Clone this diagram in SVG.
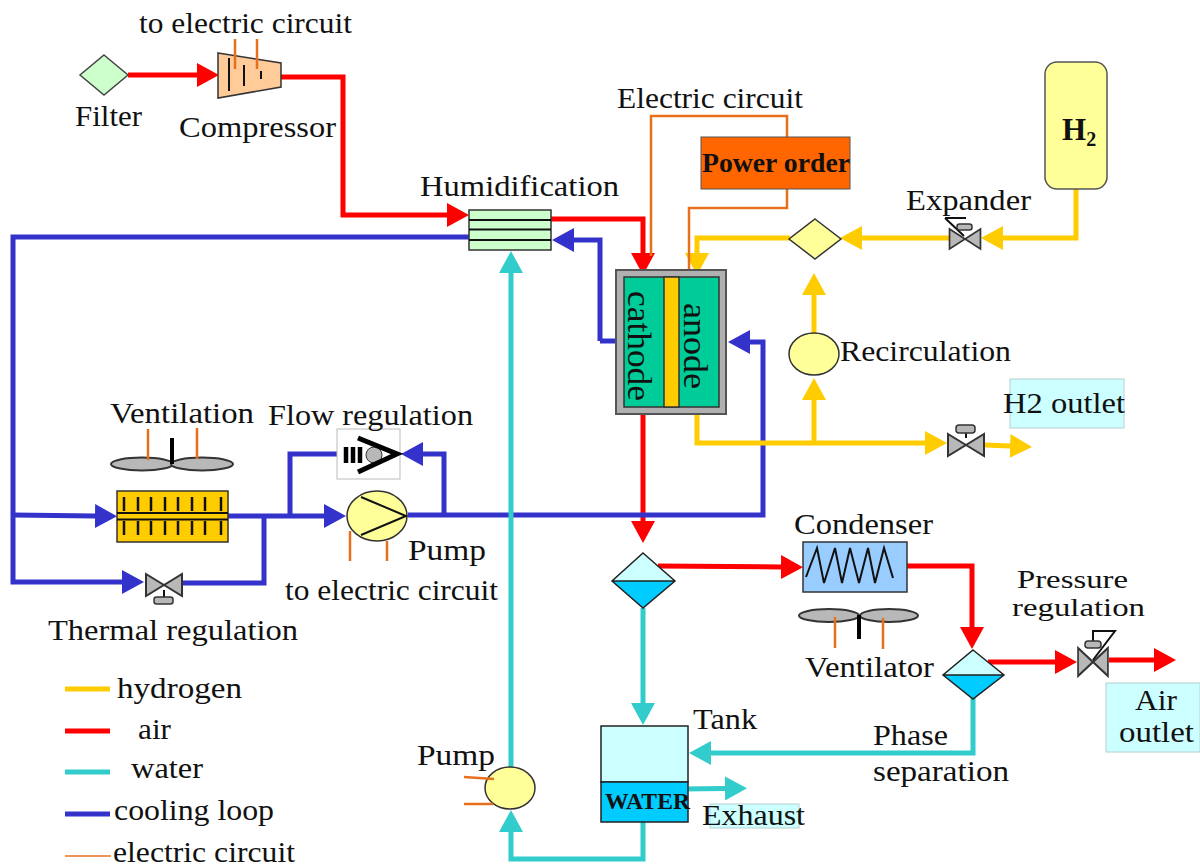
<svg xmlns="http://www.w3.org/2000/svg" width="1200" height="866" viewBox="0 0 1200 866">
<style>
text{font-family:"Liberation Serif","DejaVu Serif",serif;font-size:29px;fill:#111}
.b{font-weight:bold}
.pipe{fill:none;stroke-width:5;stroke-linejoin:miter}
.air{stroke:#f00}.h2{stroke:#fc0}.wat{stroke:#3cc}.cool{stroke:#33c}
.el{fill:none;stroke:#e8701c;stroke-width:2.5}
.bk{fill:none;stroke:#111;stroke-width:2}
.grey{fill:#b8b8b8;stroke:#333;stroke-width:2}
.out{fill:#cff;stroke:#b8d0d0;stroke-width:1}
.tick{stroke:#111;stroke-width:2.5}
</style>
<defs>
<marker id="mAir" markerUnits="userSpaceOnUse" viewBox="0 -12 22 24" refX="0" refY="0" markerWidth="22" markerHeight="24" orient="auto"><path d="M0,-12L22,0L0,12z" fill="#f00"/></marker>
<marker id="mH2" markerUnits="userSpaceOnUse" viewBox="0 -12 22 24" refX="0" refY="0" markerWidth="22" markerHeight="24" orient="auto"><path d="M0,-12L22,0L0,12z" fill="#fc0"/></marker>
<marker id="mWat" markerUnits="userSpaceOnUse" viewBox="0 -12 22 24" refX="0" refY="0" markerWidth="22" markerHeight="24" orient="auto"><path d="M0,-12L22,0L0,12z" fill="#3cc"/></marker>
<marker id="mCool" markerUnits="userSpaceOnUse" viewBox="0 -12 22 24" refX="0" refY="0" markerWidth="22" markerHeight="24" orient="auto"><path d="M0,-12L22,0L0,12z" fill="#33c"/></marker>
<g id="valve"><path class="grey" d="M-18,-11L18,11V-11L-18,11z"/></g>
</defs>
<rect width="1200" height="866" fill="#fff"/>

<g id="connectors">
<g class="pipe air">
<path marker-end="url(#mAir)" d="M128,75H197"/>
<path marker-end="url(#mAir)" d="M280,77H343V215H447"/>
<path marker-end="url(#mAir)" d="M549,219H643V253"/>
<path marker-end="url(#mAir)" d="M643,407V521"/>
<path marker-end="url(#mAir)" d="M658,566L781,567"/>
<path marker-end="url(#mAir)" d="M907,566H972V627"/>
<path marker-end="url(#mAir)" d="M988,662H1055"/>
<path marker-end="url(#mAir)" d="M1109,660H1154"/>
</g>
<g class="pipe cool">
<path marker-end="url(#mCool)" d="M600,341V240H574"/>
<path d="M600,341H616"/>
<path d="M470,237H13V582H122" marker-end="url(#mCool)"/>
<path marker-end="url(#mCool)" d="M13,515L95,516"/>
<path marker-end="url(#mCool)" d="M228,516H324"/>
<path d="M182,583H264V516"/>
<path d="M290,516V454H338"/>
<path marker-end="url(#mCool)" d="M408,515H763V342H750"/>
<path marker-end="url(#mCool)" d="M444,515V454H423"/>
</g>
<g class="pipe wat">
<path marker-end="url(#mWat)" d="M511,770V273"/>
<path marker-end="url(#mWat)" d="M643,608V703"/>
<path marker-end="url(#mWat)" d="M973,698V753H711"/>
<path marker-end="url(#mWat)" d="M680,789L725,788.500"/>
<path marker-end="url(#mWat)" d="M643,822V859H511V832"/>
</g>
<g class="pipe h2">
<path marker-end="url(#mH2)" d="M1076,188V238H1003"/>
<path marker-end="url(#mH2)" d="M950,238H862"/>
<path marker-end="url(#mH2)" d="M790,238H697V253"/>
<path marker-end="url(#mH2)" d="M814,334V295"/>
<path marker-end="url(#mH2)" d="M697,407V443H925"/>
<path marker-end="url(#mH2)" d="M814,443V400"/>
<path marker-end="url(#mH2)" d="M985,445L1010,446"/>
</g>
<g class="el">
<path d="M651,256V116H787V137"/>
<path d="M787,189V208H689V270"/>
</g>
</g>

<g id="filter"><path d="M104,55L128,75L104,95L80,75z" fill="#cfc" stroke="#444" stroke-width="1.500"/><text x="75" y="126" textLength="67" lengthAdjust="spacingAndGlyphs">Filter</text></g>

<g id="compressor">
<path d="M218,53L281,63V87L218,98z" fill="#fc9" stroke="#333" stroke-width="1.500"/>
<path class="bk" d="M229,58V91M244,65V86M261,71V79" stroke-width="1.500"/>
<path class="el" d="M235,39V69M257,39V69"/>
<text x="139" y="33" textLength="213" lengthAdjust="spacingAndGlyphs">to electric circuit</text>
<text x="179" y="137" textLength="157" lengthAdjust="spacingAndGlyphs">Compressor</text>
</g>

<g id="humidification">
<rect x="469" y="210" width="82" height="40" fill="#cfc" stroke="#333" stroke-width="1.500"/>
<path d="M469,220H551M469,229.500H551M469,240H551" stroke="#111" stroke-width="2" fill="none"/>
<text x="420" y="196" textLength="199" lengthAdjust="spacingAndGlyphs">Humidification</text>
</g>

<g id="fuel-cell">
<rect x="616" y="270" width="110" height="144" fill="#b0b0b0" stroke="#555" stroke-width="2"/>
<rect x="624" y="277" width="95" height="130" fill="#0c9" stroke="#333" stroke-width="1.500"/>
<rect x="664" y="277" width="15" height="130" fill="#fc0" stroke="#333" stroke-width="1.500"/>
<text transform="translate(628,291) rotate(90)" textLength="110" lengthAdjust="spacingAndGlyphs" style="font-size:33px">cathode</text>
<text transform="translate(684,303) rotate(90)" textLength="86" lengthAdjust="spacingAndGlyphs" style="font-size:33px">anode</text>
</g>

<g id="power-order">
<rect x="701" y="137" width="149" height="52" fill="#f60" stroke="#555" stroke-width="1"/>
<text class="b" x="702" y="172" textLength="148" lengthAdjust="spacingAndGlyphs" style="font-size:27px">Power order</text>
<text x="617" y="108" textLength="186" lengthAdjust="spacingAndGlyphs">Electric circuit</text>
</g>

<g id="h2-tank">
<rect x="1045" y="62" width="62" height="127" rx="12" fill="#ff9" stroke="#555" stroke-width="1.500"/>
<text class="b" x="1062" y="140" style="font-size:31px">H<tspan style="font-size:20px" dy="6">2</tspan></text>
</g>

<g id="expander">
<use href="#valve" transform="translate(965,239) scale(.86,.9)"/>
<path class="bk" d="M945,218H966M945,218L964,236" stroke-width="1.500"/>
<rect x="957" y="224" width="15" height="6" rx="2.500" fill="#b8b8b8" stroke="#333" stroke-width="1.500"/>
<text x="906" y="210" textLength="125" lengthAdjust="spacingAndGlyphs">Expander</text>
</g>

<g id="mixer"><path d="M815,219L841,239L815,259L789,239z" fill="#ff9" stroke="#333" stroke-width="1.500"/></g>

<g id="recirculation">
<ellipse cx="814" cy="354" rx="25" ry="21" fill="#ff9" stroke="#333" stroke-width="1.500"/>
<text x="840" y="361" textLength="171" lengthAdjust="spacingAndGlyphs">Recirculation</text>
</g>

<g id="h2-outlet">
<rect class="out" x="1010" y="379" width="114" height="49"/>
<text x="1003" y="413" textLength="122" lengthAdjust="spacingAndGlyphs">H2 outlet</text>
<use href="#valve" transform="translate(966,445)"/>
<path d="M966,438V432" stroke="#111" stroke-width="2"/>
<rect x="956" y="425" width="19" height="8" rx="3" fill="#b8b8b8" stroke="#333" stroke-width="1.500"/>
</g>

<g id="ventilation">
<ellipse cx="142" cy="464" rx="31" ry="6.500" class="grey"/>
<ellipse cx="202" cy="464" rx="31" ry="6.500" class="grey"/>
<path d="M172,438V464" stroke="#000" stroke-width="4"/>
<path class="el" d="M148,429V460M197,428V459"/>
<text x="110" y="423" textLength="144" lengthAdjust="spacingAndGlyphs">Ventilation</text>
</g>

<g id="radiator">
<rect x="117" y="491" width="111" height="51" fill="#fc0" stroke="#333" stroke-width="1.500"/>
<path d="M117,513H228M117,519.500H228" stroke="#111" stroke-width="2"/>
<path class="tick" d="M124,497V511M138,497V511M151,497V511M165,497V511M178,497V511M192,497V511M205,497V511M221,497V511M124,521V535M138,521V535M151,521V535M165,521V535M178,521V535M192,521V535M205,521V535M221,521V535"/>
</g>

<g id="thermal-regulation">
<use href="#valve" transform="translate(164,585)"/>
<path d="M164,590V597" stroke="#111" stroke-width="2"/>
<rect x="154" y="597" width="19" height="7" rx="2.500" fill="#b8b8b8" stroke="#333" stroke-width="1.500"/>
<text x="48" y="640" textLength="250" lengthAdjust="spacingAndGlyphs">Thermal regulation</text>
</g>

<g id="flow-regulation">
<rect x="337" y="429" width="63" height="50" fill="#fff" stroke="#bbb" stroke-width="1"/>
<circle cx="374" cy="455" r="8" fill="#b8b8b8" stroke="#333"/>
<path d="M358,438L397,454L358,472" fill="none" stroke="#000" stroke-width="5"/>
<path d="M346,447V463M353,447V463M360,447V463" stroke="#000" stroke-width="4.500"/>
<text x="268" y="425" textLength="205" lengthAdjust="spacingAndGlyphs">Flow regulation</text>
</g>

<g id="pump-cooling">
<ellipse cx="377" cy="516" rx="30" ry="25" fill="#ff9" stroke="#333" stroke-width="1.500"/>
<path class="bk" d="M361,497L406,516L361,535" stroke-width="1.500"/>
<path class="el" d="M350,531V561M387,541V561"/>
<text x="408" y="560" textLength="78" lengthAdjust="spacingAndGlyphs">Pump</text>
<text x="285" y="600" textLength="213" lengthAdjust="spacingAndGlyphs">to electric circuit</text>
</g>

<g id="separator-1">
<path d="M612,581L643,553L675,581z" fill="#cff"/>
<path d="M612,581L643,608L675,581z" fill="#0cf"/>
<path d="M643,553L675,581L643,608L612,581zM612,581H675" fill="none" stroke="#222" stroke-width="1.500"/>
</g>

<g id="condenser">
<rect x="803" y="542" width="104" height="50" fill="#9cf" stroke="#333" stroke-width="1.500"/>
<path d="M806,577L817,548L824,583L835,548L842,583L850,548L859,583L868,548L875,583L884,548L893,578" fill="none" stroke="#111" stroke-width="2"/>
<text x="794" y="534" textLength="139" lengthAdjust="spacingAndGlyphs">Condenser</text>
</g>

<g id="ventilator">
<ellipse cx="829" cy="615.500" rx="30" ry="6.500" class="grey"/>
<ellipse cx="889" cy="615.500" rx="29" ry="6.500" class="grey"/>
<path d="M859,615V639" stroke="#000" stroke-width="4"/>
<path class="el" d="M835,617V648M883,618V649"/>
<text x="805" y="677" textLength="129" lengthAdjust="spacingAndGlyphs">Ventilator</text>
</g>

<g id="separator-2">
<path d="M943,675L973,650L1004,675z" fill="#cff"/>
<path d="M943,675L973,699L1004,675z" fill="#0cf"/>
<path d="M973,650L1004,675L973,699L943,675zM943,675H1004" fill="none" stroke="#222" stroke-width="1.500"/>
<text x="873" y="745" textLength="75" lengthAdjust="spacingAndGlyphs">Phase</text>
<text x="873" y="781" textLength="136" lengthAdjust="spacingAndGlyphs">separation</text>
</g>

<g id="pressure-regulation">
<use href="#valve" transform="translate(1093,662) scale(.83,1.270)"/>
<path class="bk" d="M1093,643V631H1115L1093,660" stroke-width="1.500"/>
<rect x="1085" y="641" width="16" height="7" rx="3" fill="#b8b8b8" stroke="#333" stroke-width="1.500"/>
<text x="1017" y="588" textLength="111" lengthAdjust="spacingAndGlyphs" style="font-size:25px">Pressure</text>
<text x="1012" y="616" textLength="133" lengthAdjust="spacingAndGlyphs" style="font-size:25px">regulation</text>
</g>

<g id="air-outlet">
<rect class="out" x="1106" y="683" width="94" height="69"/>
<text x="1135" y="710" textLength="42" lengthAdjust="spacingAndGlyphs">Air</text>
<text x="1119" y="742" textLength="75" lengthAdjust="spacingAndGlyphs">outlet</text>
</g>

<g id="tank">
<rect x="601" y="726" width="87" height="56" fill="#cff" stroke="#222" stroke-width="1.500"/>
<rect x="601" y="782" width="87" height="40" fill="#0cf" stroke="#222" stroke-width="1.500"/>
<text class="b" x="605" y="809" textLength="85" lengthAdjust="spacingAndGlyphs" style="font-size:23px">WATER</text>
<text x="693" y="729" textLength="64" lengthAdjust="spacingAndGlyphs">Tank</text>
</g>

<g id="exhaust">
<rect class="out" x="710" y="804" width="89" height="24"/>
<text x="702" y="825" textLength="103" lengthAdjust="spacingAndGlyphs">Exhaust</text>
</g>

<g id="pump-water">
<ellipse cx="510" cy="788" rx="25" ry="21" fill="#ff9" stroke="#333" stroke-width="1.500"/>
<path class="el" d="M464,777L494,779M464,804H493"/>
<text x="417" y="765" textLength="78" lengthAdjust="spacingAndGlyphs">Pump</text>
</g>

<g id="legend">
<path class="pipe h2" d="M65,689H110"/>
<path class="pipe air" d="M65,731H110"/>
<path class="pipe wat" d="M65,772H110"/>
<path class="pipe cool" d="M65,814H110"/>
<path class="el" style="stroke-width:1.500" d="M65,856H111"/>
<text x="117" y="698" textLength="125" lengthAdjust="spacingAndGlyphs">hydrogen</text>
<text x="138" y="739" textLength="33" lengthAdjust="spacingAndGlyphs">air</text>
<text x="131" y="778" textLength="72" lengthAdjust="spacingAndGlyphs">water</text>
<text x="114" y="820" textLength="160" lengthAdjust="spacingAndGlyphs">cooling loop</text>
<text x="113" y="862" textLength="182" lengthAdjust="spacingAndGlyphs">electric circuit</text>
</g>
</svg>
